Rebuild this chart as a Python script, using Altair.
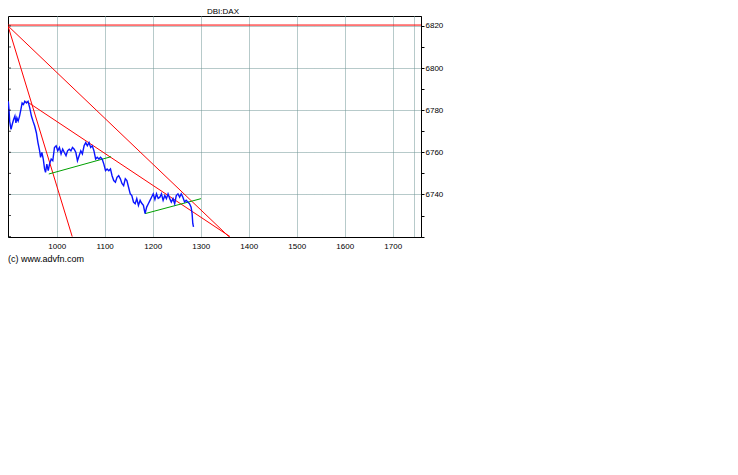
import altair as alt
import pandas as pd

# ---- price series (DBI:DAX) ----
price_x = [899.1, 900.6, 902.0, 904.7, 907.4, 910.2, 912.9, 915.0, 917.0, 919.7,
           922.6, 925.3, 927.9, 930.8, 933.5, 937.0, 940.3, 943.8, 947.3, 950.6,
           954.1, 957.6, 960.9, 964.4, 966.4, 969.1, 972.0, 974.7, 976.7, 979.4,
           982.3, 985.0, 988.5, 991.8, 995.3, 998.8, 1002.1, 1005.6, 1009.1, 1012.4,
           1015.9, 1019.4, 1022.6, 1026.1, 1029.6, 1032.9, 1036.4, 1039.9, 1043.2, 1046.7,
           1050.2, 1053.5, 1057.0, 1060.5, 1063.8, 1067.3, 1070.8, 1074.1, 1077.6, 1081.1,
           1084.4, 1087.9, 1091.4, 1094.7, 1098.2, 1101.7, 1105.0, 1108.5, 1112.0, 1115.3,
           1118.8, 1122.3, 1125.6, 1129.1, 1132.6, 1135.9, 1139.4, 1142.9, 1146.2, 1149.7,
           1153.2, 1156.5, 1160.0, 1163.5, 1166.8, 1170.3, 1173.8, 1177.1, 1180.6, 1184.1,
           1187.4, 1190.9, 1194.4, 1197.6, 1201.1, 1204.6, 1207.9, 1211.4, 1214.9, 1218.2,
           1221.7, 1225.2, 1228.5, 1232.0, 1235.5, 1238.8, 1242.3, 1245.8, 1249.1, 1252.6,
           1256.1, 1259.4, 1262.9, 1266.4, 1269.7, 1273.2, 1276.7, 1280.0, 1282.1, 1283.5,
           1285.0]
price_y = [6784.2, 6780.3, 6774.8, 6770.9, 6773.3, 6775.6, 6777.2, 6774.0, 6776.4, 6774.8,
           6777.2, 6780.3, 6783.4, 6782.7, 6784.2, 6783.4, 6784.2, 6781.1, 6777.2, 6774.8,
           6772.5, 6769.3, 6764.6, 6760.7, 6757.6, 6759.9, 6756.8, 6752.1, 6750.5, 6754.4,
           6751.3, 6754.4, 6756.8, 6756.0, 6762.3, 6763.1, 6760.7, 6762.3, 6759.2, 6761.5,
           6759.9, 6758.4, 6760.7, 6761.5, 6760.7, 6762.3, 6761.5, 6759.9, 6756.0, 6758.4,
           6760.7, 6759.2, 6763.1, 6764.6, 6763.1, 6764.6, 6762.3, 6763.1, 6760.7, 6756.8,
           6757.6, 6756.8, 6757.6, 6756.8, 6754.4, 6751.3, 6752.1, 6751.3, 6752.1, 6748.9,
           6746.6, 6745.8, 6748.1, 6748.9, 6747.4, 6745.2, 6744.2, 6747.5, 6746.6, 6743.4,
           6740.3, 6739.5, 6736.4, 6735.6, 6738.0, 6734.8, 6737.2, 6735.8, 6734.8, 6730.9,
           6734.0, 6735.6, 6737.2, 6738.7, 6740.3, 6737.6, 6740.3, 6738.1, 6738.7, 6740.3,
           6737.2, 6739.5, 6738.0, 6740.3, 6738.0, 6736.4, 6738.0, 6735.6, 6739.5, 6740.3,
           6738.7, 6740.3, 6738.7, 6736.4, 6737.2, 6736.4, 6735.6, 6734.0, 6730.9, 6726.2,
           6724.6]

# ---- red trend lines ----
trend_x1 = [898.5, 898.5, 937.0, 898.5]
trend_y1 = [6820.0, 6820.0, 6784.2, 6820.4]
trend_x2 = [1032.3, 1358.5, 1361.0, 1759.0]
trend_y2 = [6720.0, 6720.0, 6720.0, 6820.4]

# ---- green channel lines ----
support_x1 = [983.5, 1184.1]
support_y1 = [6749.7, 6730.9]
support_x2 = [1113.2, 1300.6]
support_y2 = [6757.9, 6738.0]

# ---- axes ----
x_ticks = [1000, 1100, 1200, 1300, 1400, 1500, 1600, 1700, 1745]
y_ticks = [6720, 6730, 6740, 6750, 6760, 6770, 6780, 6790, 6800, 6810, 6820]
x_domain = [898.5, 1759.0]
y_domain = [6719.8, 6824.7]

title_text = "DBI:DAX"
credit_text = "(c) www.advfn.com"

FONT = "Liberation Sans"
GRID = "#6f9494"

xscale = alt.Scale(domain=x_domain, nice=False, zero=False)
yscale = alt.Scale(domain=y_domain, nice=False, zero=False)

xaxis = alt.Axis(values=x_ticks, format="d", orient="bottom", title=None,
                 labelExpr="datum.value <= 1700 ? datum.label : ''",
                 ticks=False, labelPadding=5, labelFontSize=8, labelFont=FONT,
                 labelColor="black", domainColor="black", domainWidth=1,
                 grid=True, gridColor=GRID, gridDash=[1, 1], gridWidth=1)
yaxis = alt.Axis(values=y_ticks, format="d", orient="right", title=None,
                 labelExpr="datum.value % 20 === 0 && datum.value > 6720 ? datum.label : ''",
                 tickSize=3, tickColor="black", labelPadding=1, labelFontSize=8,
                 labelFont=FONT, labelColor="black", domainColor="black", domainWidth=1,
                 grid=True, gridColor=GRID, gridDash=[1, 1], gridWidth=1,
                 gridOpacity={"condition": {"test": "datum.value % 20 === 0", "value": 1}, "value": 0})

price_df = pd.DataFrame({"x": price_x, "y": price_y})
trend_df = pd.DataFrame({"x": trend_x1, "y": trend_y1, "x2": trend_x2, "y2": trend_y2})
support_df = pd.DataFrame({"x": support_x1, "y": support_y1, "x2": support_x2, "y2": support_y2})
lt_df = pd.DataFrame({"y": y_ticks})

price = alt.Chart(price_df).mark_line(color="#0a14ff", strokeWidth=1.4, clip=True).encode(
    x=alt.X("x:Q", scale=xscale, axis=xaxis),
    y=alt.Y("y:Q", scale=yscale, axis=yaxis),
)

trend = alt.Chart(trend_df).mark_rule(color="#ff0000", strokeWidth=1, clip=True).encode(
    x=alt.X("x:Q", scale=xscale, axis=xaxis), y=alt.Y("y:Q", scale=yscale, axis=yaxis),
    x2="x2:Q", y2="y2:Q",
)

support = alt.Chart(support_df).mark_rule(color="#00a000", strokeWidth=1, clip=True).encode(
    x=alt.X("x:Q", scale=xscale, axis=xaxis), y=alt.Y("y:Q", scale=yscale, axis=yaxis),
    x2="x2:Q", y2="y2:Q",
)

left_ticks = alt.Chart(lt_df).mark_tick(color="black", thickness=1, size=3).encode(
    y=alt.Y("y:Q", scale=yscale, axis=yaxis),
    x=alt.value(1.5),
)

title = alt.Chart(pd.DataFrame({"t": [title_text]})).mark_text(
    font=FONT, fontSize=8, color="black", align="center", baseline="alphabetic"
).encode(text="t:N", x=alt.value(215), y=alt.value(-2))

credit = alt.Chart(pd.DataFrame({"t": [credit_text]})).mark_text(
    font=FONT, fontSize=9, color="black", align="left", baseline="middle"
).encode(text="t:N", x=alt.value(0), y=alt.value(243))

chart = alt.layer(trend, support, price, left_ticks, title, credit).properties(
    width=413, height=221,
    autosize=alt.AutoSizeParams(type="none"),
    padding={"left": 0, "top": 8, "right": 60, "bottom": 45},
    background="white",
).configure_view(stroke="black", strokeWidth=1)

chart.save("out.html", embed_options={"renderer": "svg", "actions": False})
